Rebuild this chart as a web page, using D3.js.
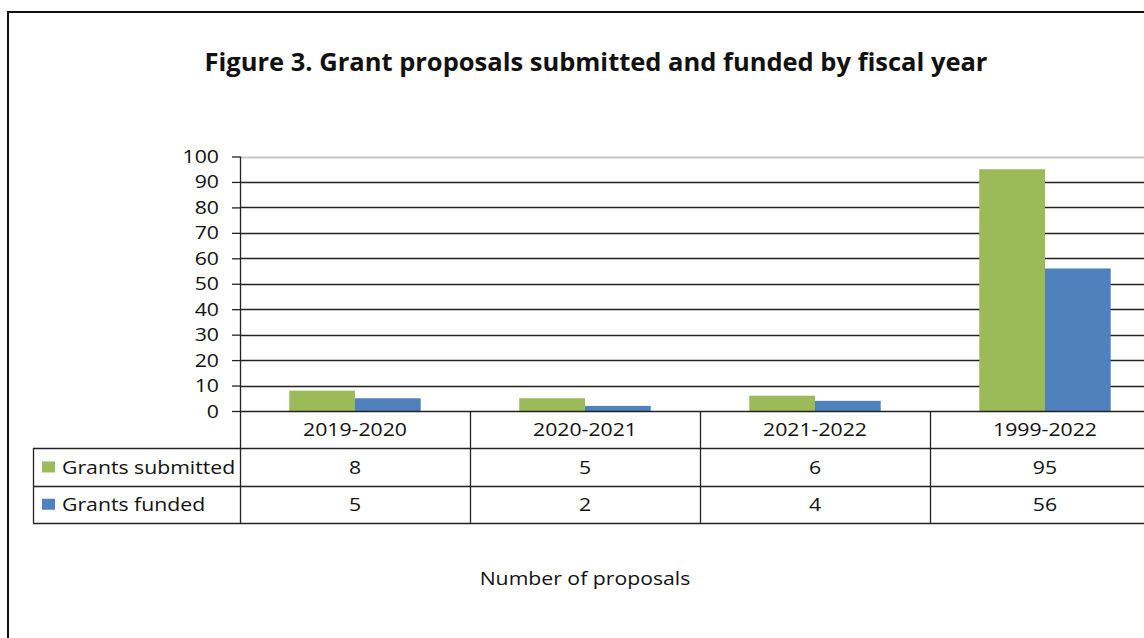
<!DOCTYPE html>
<html>
<head>
<meta charset="utf-8">
<script src="https://cdn.jsdelivr.net/npm/d3@7"></script>
<style>
  body { margin: 0; background: #fff; }
  svg { display: block; font-family: "Open Sans", sans-serif; }
</style>
</head>
<body>
<div id="chart"></div>
<script>
var width = 1144,
  height = 638;

// data
const categories = ["2019-2020", "2020-2021", "2021-2022", "1999-2022"]
const seriesNames = ["Grants submitted", "Grants funded"]
const submitted = [8, 5, 6, 95]
const funded = [5, 2, 4, 56]
const yTicks = [0, 10, 20, 30, 40, 50, 60, 70, 80, 90, 100]
const colors = ["#9bbb59", "#4f81bd"]

const seriesValues = [submitted, funded]

var left = 240,
  colW = 230,
  yTop = 156.5,
  yBottom = 411,
  rowH = 37.3,
  tableLeft = 33,
  fs = 18.8,
  widen = 1.13;

// the reference font runs a bit wide, so stretch glyphs horizontally
function stretch(sel, k) {
  sel.each(function () {
    var w = this.getComputedTextLength()
    d3.select(this)
      .attr("textLength", w * k)
      .attr("lengthAdjust", "spacingAndGlyphs")
  })
}

var svg = d3.select("#chart").append("svg")
  .attr("width", width)
  .attr("height", height)

svg.append("rect")
  .attr("width", width)
  .attr("height", height)
  .attr("fill", "#fff")

// outer chart border (runs past the right and bottom edge)
svg.append("rect")
  .attr("x", 8)
  .attr("y", 12)
  .attr("width", width + 20)
  .attr("height", height + 20)
  .attr("fill", "none")
  .attr("stroke", "#111")
  .attr("stroke-width", 2)

svg.append("text")
  .attr("x", 596)
  .attr("y", 71)
  .attr("text-anchor", "middle")
  .attr("font-size", 25.5)
  .attr("font-weight", "bold")
  .attr("fill", "#111")
  .text("Figure 3. Grant proposals submitted and funded by fiscal year")

var x = d3.scaleBand()
  .domain(categories)
  .range([left, left + colW * categories.length])
  .paddingInner(0)
  .paddingOuter(0)

var xs = d3.scaleBand()
  .domain(d3.range(seriesNames.length))
  .range([0, x.bandwidth()])
  .paddingInner(0)
  .paddingOuter(0.75)

var y = d3.scaleLinear()
  .domain([0, 100])
  .range([yBottom, yTop])

// gridlines
svg.append("g")
  .selectAll("line")
  .data(yTicks.filter(d => d > 0))
  .enter().append("line")
    .attr("x1", left)
    .attr("x2", width)
    .attr("y1", d => Math.round(y(d)) + 0.5)
    .attr("y2", d => Math.round(y(d)) + 0.5)
    .attr("stroke", d => d === 100 ? "#c8c8c8" : "#222")
    .attr("stroke-width", d => d === 100 ? 2 : 1.3)

// bars
categories.forEach((c, i) => {
  seriesValues.forEach((vals, s) => {
    svg.append("rect")
      .attr("x", x(c) + xs(s))
      .attr("y", y(vals[i]))
      .attr("width", xs.bandwidth())
      .attr("height", y(0) - y(vals[i]))
      .attr("fill", colors[s])
  })
})

// y axis
var yAxis = d3.axisLeft(y)
  .tickValues(yTicks)
  .tickSize(8)
  .tickPadding(13)

var ya = svg.append("g")
  .attr("transform", "translate(" + left + ",0)")
  .call(yAxis)
ya.select(".domain").remove()
ya.selectAll(".tick line").attr("stroke", "#222").attr("stroke-width", 1.3)
ya.selectAll(".tick text")
  .attr("font-family", "Open Sans, sans-serif")
  .attr("font-size", fs)
  .attr("fill", "#111")
  .call(stretch, widen)

// axis line + table lines
var lines = svg.append("g").attr("stroke", "#222").attr("stroke-width", 1.3)
var tableBottom = yBottom + rowH * 3
lines.append("line")
  .attr("x1", left).attr("x2", width)
  .attr("y1", yBottom + 0.5).attr("y2", yBottom + 0.5)
lines.append("line")
  .attr("x1", left + 0.5).attr("x2", left + 0.5)
  .attr("y1", yTop).attr("y2", tableBottom)
categories.forEach(c => {
  lines.append("line")
    .attr("x1", x(c) + colW + 0.5).attr("x2", x(c) + colW + 0.5)
    .attr("y1", yBottom).attr("y2", tableBottom)
})
;[1, 2, 3].forEach(r => {
  lines.append("line")
    .attr("x1", tableLeft).attr("x2", width)
    .attr("y1", Math.round(yBottom + rowH * r) + 0.5)
    .attr("y2", Math.round(yBottom + rowH * r) + 0.5)
})
lines.append("line")
  .attr("x1", tableLeft + 0.5).attr("x2", tableLeft + 0.5)
  .attr("y1", Math.round(yBottom + rowH)).attr("y2", tableBottom)

// header row
svg.append("g")
  .selectAll("text")
  .data(categories)
  .enter().append("text")
    .attr("x", d => x(d) + colW / 2)
    .attr("y", yBottom + rowH / 2)
    .attr("dy", "0.35em")
    .attr("text-anchor", "middle")
    .attr("font-size", fs)
    .attr("fill", "#111")
    .text(d => d)
    .call(stretch, widen)

// data rows
seriesNames.forEach((name, s) => {
  var cy = yBottom + rowH * (s + 1) + rowH / 2
  svg.append("rect")
    .attr("x", 42)
    .attr("y", cy - 5.5)
    .attr("width", 13)
    .attr("height", 11)
    .attr("fill", colors[s])
  svg.append("text")
    .attr("x", 62)
    .attr("y", cy)
    .attr("dy", "0.35em")
    .attr("font-size", fs)
    .attr("fill", "#111")
    .text(name)
    .call(stretch, widen)
  svg.append("g")
    .selectAll("text")
    .data(seriesValues[s])
    .enter().append("text")
      .attr("x", (d, i) => x(categories[i]) + colW / 2)
      .attr("y", cy)
      .attr("dy", "0.35em")
      .attr("text-anchor", "middle")
      .attr("font-size", fs)
      .attr("fill", "#111")
      .text(d => d)
      .call(stretch, widen)
})

svg.append("text")
  .attr("x", 585)
  .attr("y", 585)
  .attr("text-anchor", "middle")
  .attr("font-size", fs)
  .attr("fill", "#111")
  .text("Number of proposals")
  .call(stretch, widen)
</script>
</body>
</html>
